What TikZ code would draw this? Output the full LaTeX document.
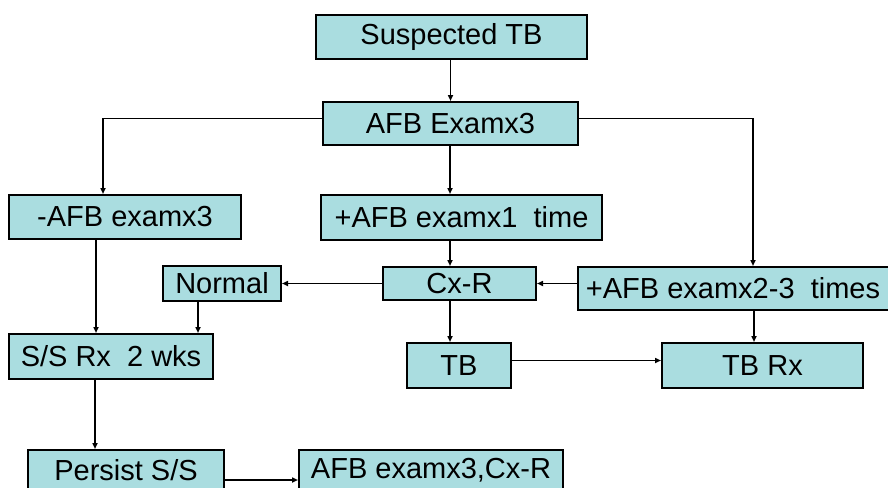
\documentclass[tikz,border=0pt]{standalone}
\usepackage{fontspec}
\setmainfont{Liberation Sans}
\usepackage{tikz}
\usetikzlibrary{arrows.meta,positioning,calc}
\definecolor{boxfill}{HTML}{AADDE0}
\tikzset{
  fbox/.style={draw=black,fill=boxfill,line width=2pt,inner sep=0pt,align=center},
  farr/.style={-{Triangle[length=6pt,width=5pt]},line width=1.8pt,draw=black},
  fline/.style={line width=1.8pt,draw=black}
}

\begin{document}
\begin{tikzpicture}[x=1pt,y=-1pt,font=\fontsize{29}{34}\selectfont]
  \useasboundingbox (0,0) rectangle (888,487);
  % boxes
  \node[fbox,minimum width=271pt,minimum height=44pt] (sus) at (451.5,37) {Suspected TB};
  \node[fbox,minimum width=255pt,minimum height=43pt] (afb) at (450.5,123.5) {AFB Examx3};
  \node[fbox,minimum width=232pt,minimum height=44pt] (neg) at (125,217) {-AFB examx3};
  \node[fbox,minimum width=281pt,minimum height=45pt] (pos1) at (461.5,217.5) {+AFB examx1\ \ time};
  \node[fbox,minimum width=311pt,minimum height=43pt] (pos23) at (733,288.5) {+AFB examx2-3\ \ times};
  \node[fbox,minimum width=118pt,minimum height=35pt] (normal) at (222,283.5) {Normal};
  \node[fbox,minimum width=153pt,minimum height=33pt] (cxr) at (459.5,283.5) {Cx-R};
  \node[fbox,minimum width=204pt,minimum height=45pt] (ssrx) at (111,356.5) {S/S Rx\ \ 2 wks};
  \node[fbox,minimum width=104pt,minimum height=45pt] (tb) at (459,365.5) {TB};
  \node[fbox,minimum width=201pt,minimum height=45pt] (tbrx) at (762.5,365.5) {TB Rx};
  \node[fbox,minimum width=196pt,minimum height=40pt] (persist) at (126,470) {Persist S/S};
  \node[fbox,minimum width=264pt,minimum height=40pt] (recheck) at (431,470) {AFB examx3,Cx-R};
  % connectors
  \draw[farr] (sus.south -| afb.south) -- (afb.north);
  \draw[farr] ([yshift=5pt]afb.west) -| ([xshift=-22pt]neg.north);
  \draw[farr] ([xshift=-0.5pt]afb.south) -- ([xshift=-0.5pt]afb.south |- pos1.north);
  \draw[farr] ([yshift=5pt]afb.east) -| ([xshift=20pt]pos23.north);
  \draw[farr] ([xshift=-0.5pt]afb.south |- pos1.south) -- ([xshift=-0.5pt]afb.south |- cxr.north);
  \draw[farr] (pos23.west |- cxr.east) -- (cxr.east);
  \draw[farr] (cxr.west) -- (normal.east);
  \draw[farr] ([xshift=-0.5pt]afb.south |- cxr.south) -- ([xshift=-0.5pt]afb.south |- tb.north);
  \draw[farr] ([yshift=5pt]tb.east) -- ([yshift=5pt]tbrx.west);
  \draw[farr] ([xshift=21pt]pos23.south) -- ([xshift=-8.5pt]tbrx.north);
  \draw[farr] ([xshift=-29pt]neg.south) -- ([xshift=-15pt]ssrx.north);
  \draw[farr] ([xshift=-24pt]normal.south) -- ([xshift=87pt]ssrx.north);
  \draw[farr] ([xshift=-16pt]ssrx.south) -- ([xshift=-31pt]persist.north);
  \draw[farr] ([yshift=-10pt]persist.east) -- ([yshift=-10pt]recheck.west);
\end{tikzpicture}
\end{document}
